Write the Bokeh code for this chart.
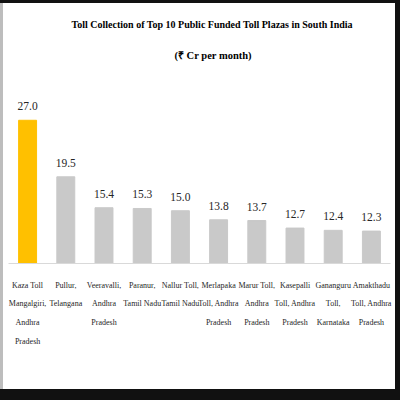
from bokeh.plotting import figure
from bokeh.models import ColumnDataSource, LabelSet, Title, FactorRange, Range1d
from bokeh.core.properties import value
from bokeh.embed import file_html
from bokeh.resources import INLINE

categories = [
    "Kaza Toll\nMangalgiri,\nAndhra\nPradesh",
    "Pullur,\nTelangana",
    "Veeravalli,\nAndhra\nPradesh",
    "Paranur,\nTamil Nadu",
    "Nallur Toll,\nTamil Nadu",
    "Merlapaka\nToll, Andhra\nPradesh",
    "Marur Toll,\nAndhra\nPradesh",
    "Kasepalli\nToll, Andhra\nPradesh",
    "Gananguru\nToll,\nKarnataka",
    "Amakthadu\nToll, Andhra\nPradesh",
]
values = [27.0, 19.5, 15.4, 15.3, 15.0, 13.8, 13.7, 12.7, 12.4, 12.3]
value_labels = ["27.0", "19.5", "15.4", "15.3", "15.0", "13.8", "13.7", "12.7", "12.4", "12.3"]
bar_colors = ["#FFC000"] + ["#C9C9C9"] * 9
title_line1 = "Toll Collection of Top 10 Public Funded Toll Plazas in South India"
title_line2 = "(₹ Cr per month)"
y_start, y_end = 8, 34

FONT = "Liberation Serif"

src = ColumnDataSource(dict(cat=categories, val=values, lbl=value_labels, color=bar_colors))

p = figure(
    width=400, height=400,
    x_range=FactorRange(*categories, range_padding=0),
    y_range=Range1d(y_start, y_end),
    output_backend="svg", toolbar_location=None,
    min_border_left=8, min_border_right=10, min_border_top=67, min_border_bottom=137,
    title=None,
)
p.vbar(x="cat", top="val", bottom=y_start, width=0.47, color="color", source=src)

p.add_layout(LabelSet(x="cat", y="val", text="lbl", source=src, y_offset=10,
                      text_align="center", text_baseline="bottom",
                      text_font=value(FONT), text_font_size="11.5px", text_color="#262626"))

p.add_layout(Title(text=title_line2, align="left", offset=166, standoff=13,
                   text_font=FONT, text_font_style="bold", text_font_size="10.5px",
                   text_color="#000000"), "above")
p.add_layout(Title(text=title_line1, align="left", offset=63, standoff=24,
                   text_font=FONT, text_font_style="bold", text_font_size="10px",
                   text_color="#000000"), "above")

p.yaxis.visible = False
p.xgrid.grid_line_color = None
p.ygrid.grid_line_color = None
p.xaxis.axis_line_color = "#D9D9D9"
p.xaxis.axis_line_width = 1
p.xaxis.major_tick_line_color = None
p.xaxis.minor_tick_line_color = None
p.xaxis.major_tick_out = 0
p.xaxis.major_tick_in = 0
p.xaxis.major_label_standoff = 17
p.xaxis.major_label_text_font = FONT
p.xaxis.major_label_text_font_size = "8px"
p.xaxis.major_label_text_line_height = 2.1
p.xaxis.major_label_text_color = "#262626"
p.outline_line_color = None
p.background_fill_color = None
p.border_fill_color = None
p.styles = {
    "background-color": "white",
    "box-shadow": "inset 0 3px 0 0 #111111, inset -5px 0 0 0 #111111, "
                  "inset 0 -11px 0 0 #111111, inset 3px 0 0 0 #BDBDBD",
}

open("out.html", "w").write(file_html(p, INLINE))
